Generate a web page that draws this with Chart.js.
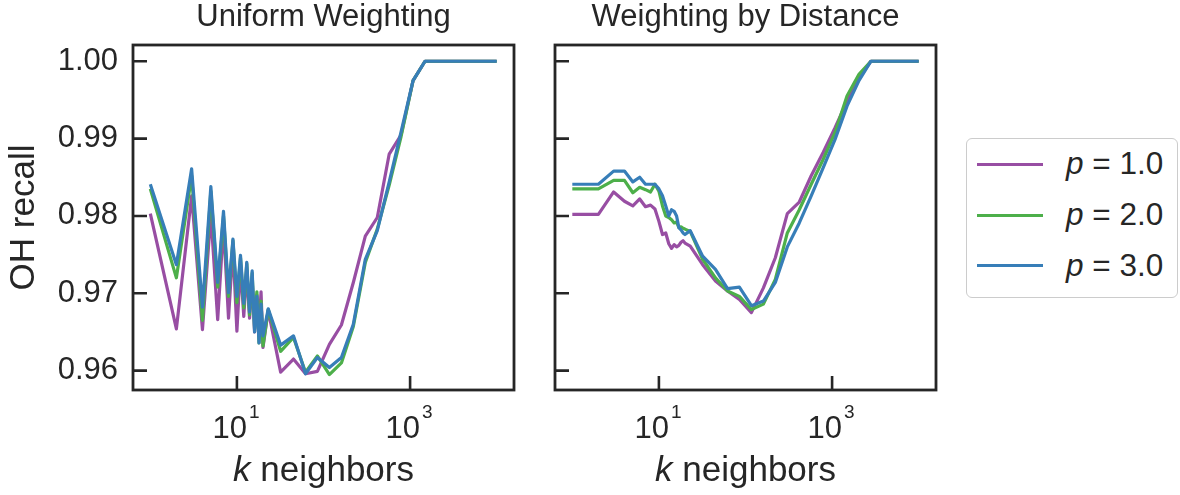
<!DOCTYPE html>
<html>
<head>
<meta charset="utf-8">
<script src="https://cdn.jsdelivr.net/npm/chart.js@4.4.1/dist/chart.umd.min.js"></script>
<style>
  html, body { margin: 0; padding: 0; background: #ffffff; }
  #wrap { position: relative; width: 1180px; height: 495px; background: #ffffff; overflow: hidden; font-family: "Liberation Sans", Arial, sans-serif; color: #262626; }
  canvas { position: absolute; top: 0; }
  #legendBox { position: absolute; left: 966px; top: 138px; width: 212px; height: 160px; box-sizing: border-box; border: 1.5px solid #cccccc; border-radius: 6px; background: #ffffff; }
  .lgLine { position: absolute; left: 977px; width: 66px; height: 3px; }
  .lgText { position: absolute; left: 1066px; font-size: 31.5px; line-height: 36px; white-space: pre; }
</style>
</head>
<body>
<div id="wrap">
  <canvas id="cUniform" width="540" height="495" style="left:0px;width:540px;height:495px"></canvas>
  <canvas id="cDistance" width="420" height="495" style="left:540px;width:420px;height:495px"></canvas>
  <div id="legendBox"></div>
  <div id="legendItems"></div>
</div>
<script>
// ---------------- data ----------------
const kValues = [1,2,3,4,5,6,7,8,9,10,11,12,13,14,15,16,17,18,19,20,
  23,32,45,62,85,117,161,221,304,418,574,788,1082,1487,2043,2807,3856,5298,7278,10000];

const uniformP1 = [0.9803,0.9654,0.9826,0.9653,0.9802,0.9666,0.9788,0.9668,0.9760,0.9651,
  0.9737,0.9670,0.9730,0.9668,0.9718,0.9650,0.9698,0.9655,0.9702,0.9630,
  0.9678,0.9598,0.9615,0.9596,0.9599,0.9634,0.9659,0.9714,0.9774,0.9798,
  0.9880,0.9905,0.9975,1.0,1.0,1.0,1.0,1.0,1.0,1.0];
const uniformP2 = [0.9835,0.9720,0.9852,0.9665,0.9832,0.9708,0.9800,0.9696,0.9768,0.9688,
  0.9746,0.9681,0.9738,0.9672,0.9726,0.9654,0.9702,0.9636,0.9690,0.9632,
  0.9679,0.9625,0.9643,0.9598,0.9619,0.9595,0.9610,0.9657,0.9740,0.9783,
  0.9840,0.9903,0.9975,1.0,1.0,1.0,1.0,1.0,1.0,1.0];
const uniformP3 = [0.9841,0.9737,0.9861,0.9682,0.9838,0.9714,0.9806,0.9701,0.9770,0.9696,
  0.9749,0.9687,0.9740,0.9676,0.9729,0.9650,0.9696,0.9636,0.9686,0.9645,
  0.9680,0.9633,0.9645,0.9596,0.9617,0.9604,0.9617,0.9660,0.9744,0.9781,
  0.9844,0.9909,0.9975,1.0,1.0,1.0,1.0,1.0,1.0,1.0];

const distanceP1 = [0.9802,0.9802,0.9831,0.9819,0.9813,0.9822,0.9812,0.9814,0.9809,0.9793,
  0.9776,0.9778,0.9764,0.9758,0.9763,0.9760,0.9762,0.9766,0.9768,0.9765,
  0.9761,0.9737,0.9716,0.9703,0.9692,0.9675,0.9707,0.9746,0.9803,0.9818,
  0.9852,0.9882,0.9914,0.9948,0.9978,1.0,1.0,1.0,1.0,1.0];
const distanceP2 = [0.9835,0.9835,0.9846,0.9846,0.9830,0.9837,0.9834,0.9831,0.9841,0.9832,
  0.9813,0.9800,0.9798,0.9795,0.9791,0.9792,0.9785,0.9786,0.9784,0.9783,
  0.9780,0.9744,0.9720,0.9703,0.9696,0.9679,0.9686,0.9718,0.9778,0.9808,
  0.9841,0.9873,0.9908,0.9955,0.9983,1.0,1.0,1.0,1.0,1.0];
const distanceP3 = [0.9841,0.9841,0.9858,0.9858,0.9844,0.9850,0.9841,0.9841,0.9841,0.9835,
  0.9826,0.9813,0.9800,0.9808,0.9806,0.9800,0.9785,0.9782,0.9778,0.9776,
  0.9781,0.9748,0.9731,0.9706,0.9708,0.9684,0.9690,0.9714,0.9760,0.9791,
  0.9826,0.9862,0.9899,0.9942,0.9975,1.0,1.0,1.0,1.0,1.0];

const seriesLabels = ["1.0", "2.0", "3.0"];
const seriesColors = ["#984ea3", "#4daf4a", "#377eb8"];
const panelTitles = ["Uniform Weighting", "Weighting by Distance"];
const yTitle = "OH recall";
const xTitleVar = "k";
const xTitleRest = " neighbors";
const xTickValues = [10, 1000];
const xTickBase = ["10", "10"];
const xTickExp = ["1", "3"];
const yTickValues = [0.96, 0.97, 0.98, 0.99, 1.00];
const xRange = [0.631, 15849];
const yRange = [0.9575, 1.0021];

// ---------------- style ----------------
const FONT = '"Liberation Sans", Arial, sans-serif';
const INK = '#262626';

const frameTicks = {
  id: 'frameTicks',
  afterDraw(chart) {
    const { ctx, chartArea: a, scales } = chart;
    const x = scales.x, y = scales.y;
    ctx.save();
    ctx.strokeStyle = INK;
    ctx.lineWidth = 2.8;
    ctx.strokeRect(a.left, a.top, a.right - a.left, a.bottom - a.top);
    ctx.lineWidth = 2.6;
    ctx.beginPath();
    yTickValues.forEach(v => {
      const py = y.getPixelForValue(v);
      ctx.moveTo(a.left, py); ctx.lineTo(a.left + 14, py);
    });
    xTickValues.forEach(v => {
      const px = x.getPixelForValue(v);
      ctx.moveTo(px, a.bottom); ctx.lineTo(px, a.bottom - 14);
    });
    ctx.stroke();
    // x tick labels 10^n
    ctx.fillStyle = INK;
    ctx.textBaseline = 'alphabetic';
    xTickValues.forEach((v, i) => {
      const px = x.getPixelForValue(v);
      ctx.font = '31px ' + FONT;
      ctx.textAlign = 'right';
      ctx.fillText(xTickBase[i], px + 10, a.bottom + 48);
      ctx.font = '19px ' + FONT;
      ctx.textAlign = 'left';
      ctx.fillText(xTickExp[i], px + 12, a.bottom + 28);
    });
    // x axis title with italic k
    ctx.textAlign = 'left';
    ctx.font = 'italic 35px ' + FONT;
    const w1 = ctx.measureText(xTitleVar).width;
    ctx.font = '35px ' + FONT;
    const w2 = ctx.measureText(xTitleRest).width;
    const cx = (a.left + a.right) / 2;
    const sx = cx - (w1 + w2) / 2;
    ctx.font = 'italic 35px ' + FONT;
    ctx.fillText(xTitleVar, sx, a.bottom + 91);
    ctx.font = '35px ' + FONT;
    ctx.fillText(xTitleRest, sx + w1, a.bottom + 91);
    ctx.restore();
  }
};

function makeDatasets(arrs) {
  return arrs.map((arr, i) => ({
    label: 'p = ' + seriesLabels[i],
    data: kValues.map((k, j) => ({ x: k, y: arr[j] })),
    borderColor: seriesColors[i],
    backgroundColor: seriesColors[i],
    borderWidth: 3.2,
    pointRadius: 0,
    pointHoverRadius: 0,
    tension: 0,
    fill: false,
    borderJoinStyle: 'round',
    borderCapStyle: 'butt',
    order: 3 - i
  }));
}

function makeChart(canvasId, title, arrs, showY, yWidth, padRight) {
  return new Chart(document.getElementById(canvasId), {
    type: 'line',
    data: { datasets: makeDatasets(arrs) },
    plugins: [frameTicks],
    options: {
      responsive: false,
      animation: false,
      devicePixelRatio: 1,
      layout: { padding: { left: 0, right: padRight, top: 0, bottom: 0 } },
      plugins: {
        legend: { display: false },
        tooltip: { enabled: false },
        title: {
          display: true,
          text: title,
          fullSize: false,
          color: INK,
          font: { family: FONT, size: 31, weight: 'normal', lineHeight: 1.1 },
          padding: { top: 0, bottom: 10.9 }
        }
      },
      scales: {
        x: {
          type: 'logarithmic',
          position: 'bottom',
          min: xRange[0],
          max: xRange[1],
          bounds: 'data',
          grid: { display: false, drawTicks: false },
          border: { display: false },
          ticks: { display: false },
          afterBuildTicks: s => { s.ticks = xTickValues.map(v => ({ value: v })); },
          afterFit: s => { s.height = 105; }
        },
        y: {
          type: 'linear',
          position: 'left',
          min: yRange[0],
          max: yRange[1],
          bounds: 'data',
          grid: { display: false, drawTicks: false },
          border: { display: false },
          ticks: {
            display: showY,
            padding: 15,
            color: INK,
            font: { family: FONT, size: 31 },
            callback: v => Number(v).toFixed(2)
          },
          title: {
            display: showY,
            text: yTitle,
            color: INK,
            font: { family: FONT, size: 35 },
            padding: { top: 3, bottom: 0 }
          },
          afterBuildTicks: s => { s.ticks = yTickValues.map(v => ({ value: v })); },
          afterFit: s => { s.width = yWidth; }
        }
      }
    }
  });
}

makeChart('cUniform', panelTitles[0], [uniformP1, uniformP2, uniformP3], true, 133, 26);
makeChart('cDistance', panelTitles[1], [distanceP1, distanceP2, distanceP3], false, 15, 24);

// ---------------- legend (HTML) ----------------
const legendItems = document.getElementById('legendItems');
const legendCenters = [164.3, 215, 265.7];
seriesLabels.forEach((lab, i) => {
  const ln = document.createElement('div');
  ln.className = 'lgLine';
  ln.style.top = (legendCenters[i] - 1.5) + 'px';
  ln.style.background = seriesColors[i];
  legendItems.appendChild(ln);
  const tx = document.createElement('div');
  tx.className = 'lgText';
  tx.style.top = (legendCenters[i] + 10 - 29) + 'px';
  tx.innerHTML = '<i>p</i> = ' + lab;
  legendItems.appendChild(tx);
});
</script>
</body>
</html>
